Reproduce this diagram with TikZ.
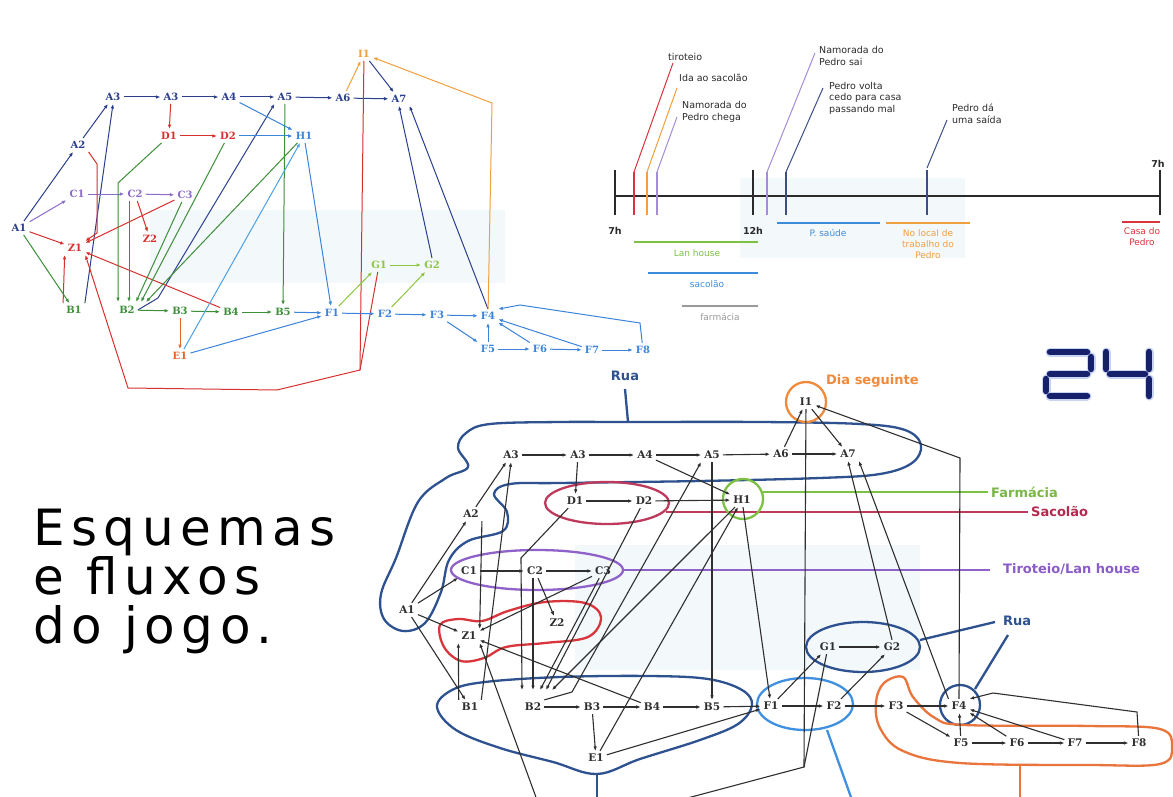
\documentclass[tikz,border=0pt]{standalone}
\usepackage{fontspec}
\usetikzlibrary{arrows.meta,calc}
\newfontfamily\nodefont{DejaVu Serif}
\newfontfamily\lbfont{DejaVu Sans}
\newfontfamily\titlefont{DejaVu Sans}[LetterSpace=13]
\definecolor{cnavy}{HTML}{2B3F8C}
\definecolor{cblue}{HTML}{3B84DA}
\definecolor{clblue}{HTML}{4EA0E4}
\definecolor{cred}{HTML}{D7312F}
\definecolor{cgreen}{HTML}{3E8E3A}
\definecolor{cpurple}{HTML}{8B6CC9}
\definecolor{corange}{HTML}{F0A040}
\definecolor{cE}{HTML}{E9632B}
\definecolor{cyg}{HTML}{8DC63F}
\definecolor{cgray}{HTML}{2F2F2F}
\definecolor{ctext}{HTML}{2A2A2A}
\definecolor{rnavy}{HTML}{2E5190}
\definecolor{rred}{HTML}{D8363C}
\definecolor{rcrimson}{HTML}{BE3A5C}
\definecolor{rgreen}{HTML}{7CC143}
\definecolor{rpurple}{HTML}{8E62C8}
\definecolor{rlblue}{HTML}{3F90E0}
\definecolor{rorange}{HTML}{E9753C}
\definecolor{rdorange}{HTML}{F08A3C}
\definecolor{lgreen}{HTML}{7AB648}
\definecolor{lcrimson}{HTML}{B5294E}
\definecolor{lpurple}{HTML}{8A5CC8}
\definecolor{tgreen}{HTML}{7CC143}
\definecolor{tblue}{HTML}{3D8CDB}
\definecolor{tgray}{HTML}{9A9A9A}
\definecolor{torange}{HTML}{F0A040}
\definecolor{tred}{HTML}{D9343C}
\definecolor{tpurple}{HTML}{A58CD8}
\definecolor{tnavy}{HTML}{3B4E86}
\definecolor{cpale}{HTML}{F3F8FB}
\definecolor{c24}{HTML}{16206B}
\definecolor{c24g}{HTML}{C9D5F0}
\begin{document}
\begin{tikzpicture}[x=1pt,y=-1pt,
  >={Latex[length=4.5pt,width=3.6pt]},
  tn/.style={font=\nodefont\bfseries\fontsize{10}{12}\selectfont, inner sep=3pt},
  bn/.style={font=\nodefont\bfseries\fontsize{10.5}{12}\selectfont, inner sep=3pt, text=cgray},
  te/.style={->, line width=1pt},
  be/.style={->, line width=1.1pt, draw=cgray},
  pl/.style={line width=1pt},
  blob/.style={line width=2.3pt},
  lab/.style={font=\lbfont\bfseries\fontsize{13}{15}\selectfont, inner sep=0pt},
  tl/.style={font=\lbfont\fontsize{9.5}{11.5}\selectfont, text=ctext, align=left, inner sep=0pt, anchor=west},
  tr/.style={font=\lbfont\fontsize{9}{11}\selectfont, align=center, inner sep=0pt},
  bar/.style={line width=2pt},
  tick/.style={line width=2pt},
  sl/.style={line width=1pt},
]
\path[use as bounding box, fill=white] (0,0) rectangle (1173,797);
\clip (0,0) rectangle (1173,797);
% faint tints
\fill[cpale] (150,210) rectangle (505,283);
\fill[cpale] (740,178) rectangle (965,258);
\fill[cpale] (575,545) rectangle (920,670);

% ================= TOP-LEFT GRAPH =================
\node[tn,text=cnavy] (tA1) at (19,228) {A1};
\node[tn,text=cnavy] (tA2) at (78,145) {A2};
\node[tn,text=cnavy] (tA3a) at (113,97) {A3};
\node[tn,text=cnavy] (tA3b) at (171,97) {A3};
\node[tn,text=cnavy] (tA4) at (229,97) {A4};
\node[tn,text=cnavy] (tA5) at (285,97) {A5};
\node[tn,text=cnavy] (tA6) at (343,98) {A6};
\node[tn,text=cnavy] (tA7) at (399,99) {A7};
\node[tn,text=corange] (tI1) at (364,54) {I1};
\node[tn,text=cred] (tD1) at (169,136) {D1};
\node[tn,text=cred] (tD2) at (228,136) {D2};
\node[tn,text=cblue] (tH1) at (304,136) {H1};
\node[tn,text=cpurple] (tC1) at (77,194) {C1};
\node[tn,text=cpurple] (tC2) at (135,194) {C2};
\node[tn,text=cpurple] (tC3) at (185,195) {C3};
\node[tn,text=cred] (tZ2) at (150,239) {Z2};
\node[tn,text=cred] (tZ1) at (75,248) {Z1};
\node[tn,text=cgreen] (tB1) at (74,310) {B1};
\node[tn,text=cgreen] (tB2) at (127,310) {B2};
\node[tn,text=cgreen] (tB3) at (180,311) {B3};
\node[tn,text=cgreen] (tB4) at (231,312) {B4};
\node[tn,text=cgreen] (tB5) at (283,312) {B5};
\node[tn,text=cE] (tE1) at (180,356) {E1};
\node[tn,text=cblue] (tF1) at (332,313) {F1};
\node[tn,text=cblue] (tF2) at (385,314) {F2};
\node[tn,text=cblue] (tF3) at (437,315) {F3};
\node[tn,text=cblue] (tF4) at (488,316) {F4};
\node[tn,text=cblue] (tF5) at (488,349) {F5};
\node[tn,text=cblue] (tF6) at (540,349) {F6};
\node[tn,text=cblue] (tF7) at (592,350) {F7};
\node[tn,text=cblue] (tF8) at (643,350) {F8};
\node[tn,text=cyg] (tG1) at (379,265) {G1};
\node[tn,text=cyg] (tG2) at (432,265) {G2};

% navy
\draw[te,cnavy] (tA1) -- (tA2);
\draw[te,cnavy] (tA2) -- (tA3a);
\draw[te,cnavy] (tA3a) -- (tA3b);
\draw[te,cnavy] (tA3b) -- (tA4);
\draw[te,cnavy] (tA4) -- (tA5);
\draw[te,cnavy] (tA5) -- (tA6);
\draw[te,cnavy] (tA6) -- (tA7);
\draw[te,cnavy] (tB1.north east) -- (tA3a.south);
\draw[te,cnavy] (tB2.east) -- (158,298) -- (tA5.south west);
\draw[te,cnavy] (tI1) -- (tA7);
\draw[te,cnavy] (tG2.north) -- (tA7.south);
\draw[te,cnavy] (tF4.north) -- (tA7.south east);
% purple
\draw[te,cpurple] (tA1) -- (tC1);
\draw[te,cpurple] (tC1) -- (tC2);
\draw[te,cpurple] (tC2) -- (tC3);
% red
\draw[te,cred] (tA3b) -- (tD1);
\draw[te,cred] (tD1) -- (tD2);
\draw[te,cred] (tA1) -- (tZ1);
\draw[te,cred] (tC3) -- (tZ1);
\draw[te,cred] (tC2) -- (tZ2);
\draw[te,cred] (tB1.north west) -- (tZ1.south west);
\draw[te,cred] (tB4) -- (tZ1);
\draw[te,cred] (tA2.south east) -- (97,164) -- (97,233) -- (tZ1.north east);
\coordinate (tR1) at (360,370);
\draw[pl,cred] (tI1) -- (tR1);
\draw[te,cred] (tG1) -- (tR1) -- (277,390) -- (128,388) -- (tZ1.south east);
% green
\draw[te,cgreen] (tA1) -- (tB1);
\coordinate (tb2a) at (118,302);
\coordinate (tb2b) at (129,302);
\coordinate (tb2c) at (136,302);
\coordinate (tb2d) at (141,302);
\coordinate (tb2e) at (146,302);
\draw[te,cgreen] (tD1) -- (118,183) -- (tb2a);
\draw[te,cgreen] (tC2.south -| tb2b) -- (tb2b);
\draw[te,cgreen] (tC3) -- (tb2c);
\draw[te,cgreen] (tD2) -- (tb2d);
\draw[te,cgreen] (tH1) -- (tb2e);
\draw[te,cgreen] (tA5) -- (tB5);
\draw[te,cgreen] (tB2) -- (tB3);
\draw[te,cgreen] (tB3) -- (tB4);
\draw[te,cgreen] (tB4) -- (tB5);
\draw[te,cE] (tB3) -- (tE1);
% blue
\draw[te,cblue] (tA4) -- (tH1);
\draw[te,cblue] (tD2) -- (tH1);
\draw[te,cblue] (tH1) -- (tF1);
\draw[te,cblue] (tB5) -- (tF1);
\draw[te,cblue] (tE1) -- (tF1);
\draw[te,clblue] (tE1) -- (tH1);
\draw[te,cblue] (tF1) -- (tF2);
\draw[te,cblue] (tF2) -- (tF3);
\draw[te,cblue] (tF3) -- (tF4);
\draw[te,cblue] (tF3) -- (tF5);
\draw[te,cblue] (tF5) -- (tF4);
\draw[te,cblue] (tF5) -- (tF6);
\draw[te,cblue] (tF6) -- (tF7);
\draw[te,cblue] (tF7) -- (tF8);
\draw[te,cblue] (tF6) -- (tF4);
\draw[te,cblue] (tF7) -- (tF4);
\draw[te,cblue] (tF8) -- (640,323) -- (520,305) -- (tF4.north east);
% yellow-green
\draw[te,cyg] (tF1) -- (tG1);
\draw[te,cyg] (tF2) -- (tG2);
\draw[te,cyg] (tG1) -- (tG2);
% orange
\draw[te,corange] (tA6) -- (tI1);
\draw[te,corange] (tF4) -- (492,103) -- (tI1);

% ================= TIMELINE =================
\draw[tick,ctext] (615,196) -- (1160,196);
\draw[tick,ctext] (615,170) -- (615,215);
\draw[tick,ctext] (753,170) -- (753,215);
\draw[tick,ctext] (1160,170) -- (1160,215);
\draw[tick,tred] (634,172) -- (634,215);
\draw[tick,torange] (647,172) -- (647,215);
\draw[tick,tpurple] (657,172) -- (657,215);
\draw[tick,tpurple] (767,172) -- (767,215);
\draw[tick,tnavy] (786,172) -- (786,215);
\draw[tick,tnavy] (927,170) -- (927,215);
\draw[sl,tred] (634,172) -- (673,63);
\draw[sl,torange] (647,172) -- (677,88);
\draw[sl,tpurple] (657,172) -- (677,117);
\draw[sl,tpurple] (767,172) -- (815,53);
\draw[sl,tnavy] (786,172) -- (823,88);
\draw[sl,tnavy] (927,168) -- (947,120);
\node[tl] (L1) at (668,57) {tiroteio};
\node[tl] (L2) at (679,78) {Ida ao sacolão};
\node[tl] (L3) at (682,112) {Namorada do\\Pedro chega};
\node[tl] (L4) at (819,56) {Namorada do\\Pedro sai};
\node[tl] (L5) at (829,98) {Pedro volta\\cedo para casa\\passando mal};
\node[tl] (L6) at (952,114) {Pedro dá\\uma saída};
\node[tr,font=\lbfont\bfseries\fontsize{9.5}{11}\selectfont,text=ctext] (h7a) at (615,231) {7h};
\node[tr,font=\lbfont\bfseries\fontsize{9.5}{11}\selectfont,text=ctext] (h12) at (753,231) {12h};
\node[tr,font=\lbfont\bfseries\fontsize{9.5}{11}\selectfont,text=ctext] (h7b) at (1158,164) {7h};
\draw[bar,tgreen] (634,242) -- (758,242);
\draw[bar,tblue] (648,273) -- (758,273);
\draw[bar,tgray] (682,306) -- (758,306);
\draw[bar,tblue] (777,223) -- (880,223);
\draw[bar,torange] (886,223) -- (970,223);
\draw[bar,tred] (1122,222) -- (1160,222);
\node[tr,text=tgreen] (r1) at (697,253) {Lan house};
\node[tr,text=tblue] (r2) at (707,284) {sacolão};
\node[tr,text=tgray] (r3) at (720,317) {farmácia};
\node[tr,text=tblue] (r4) at (828,233) {P. saúde};
\node[tr,text=torange] (r5) at (928,244) {No local de\\trabalho do\\Pedro};
\node[tr,text=tred] (r6) at (1142,237) {Casa do\\Pedro};

% ================= 24 =================
\begin{scope}[line cap=round]
\foreach \w/\c in {9/c24g, 6.5/c24}{
  \draw[line width=\w pt, \c] (1050,352) -- (1087,352);
  \draw[line width=\w pt, \c] (1091,357) -- (1091,369);
  \draw[line width=\w pt, \c] (1050,374) -- (1087,374);
  \draw[line width=\w pt, \c] (1046,379) -- (1046,391);
  \draw[line width=\w pt, \c] (1050,396) -- (1087,396);
  \draw[line width=\w pt, \c] (1106,352) -- (1106,369);
  \draw[line width=\w pt, \c] (1110,374) -- (1145,374);
  \draw[line width=\w pt, \c] (1149,352) -- (1149,369);
  \draw[line width=\w pt, \c] (1149,379) -- (1149,396);
}
\end{scope}

% ================= TITLE =================
\node[anchor=base west, font=\titlefont\fontsize{50}{52}\selectfont, inner sep=0pt] (T1) at (33,545) {Esquemas};
\node[anchor=base west, font=\titlefont\fontsize{50}{52}\selectfont, inner sep=0pt] (T2) at (33,594) {e fluxos};
\node[anchor=base west, font=\titlefont\fontsize{50}{52}\selectfont, inner sep=0pt] (T3) at (33,643) {do jogo.};

% ================= BOTTOM GRAPH: regions =================
\draw[blob,rnavy] plot[smooth cycle, tension=0.6] coordinates {(628,422) (760,422) (860,424) (905,430) (921,445) (912,463) (880,474) (820,478) (700,481) (560,483) (510,484) (494,494) (507,512) (503,531) (468,541) (449,560) (441,592) (425,623) (403,631) (384,619) (381,594) (396,558) (418,502) (446,478) (468,467) (458,448) (466,433) (490,424) (560,422)};
\node[lab,text=rnavy] (rua1) at (625,376) {Rua};
\draw[blob,rnavy] (rua1.south |- 0,389) -- (628,422);

\draw[blob,rcrimson] (607,503) ellipse [x radius=62, y radius=21];
\draw[blob,rcrimson] (666,512) -- (1028,512);
\node[lab,text=lcrimson,anchor=west] (sac) at (1031,512) {Sacolão};

\draw[blob,rgreen] (743,499) circle [radius=20];
\draw[blob,rgreen] (763,492) -- (988,492);
\node[lab,text=lgreen,anchor=west] (far) at (991,492) {Farmácia};

\draw[blob,rpurple] (537,570) ellipse [x radius=86, y radius=20];
\draw[blob,rpurple] (623,570) -- (990,570);
\node[lab,text=lpurple,anchor=west] (tir) at (1003,569) {Tiroteio/Lan house};

\draw[blob,rred] plot[smooth cycle, tension=0.6] coordinates {(440,625) (458,619) (482,621) (508,611) (545,602) (585,603) (601,617) (588,637) (545,643) (506,647) (484,658) (461,661) (444,647)};

\draw[blob,rnavy] plot[smooth cycle, tension=0.6] coordinates {(437,707) (452,690) (485,682) (560,677) (650,676) (708,679) (742,690) (752,705) (738,724) (700,740) (640,759) (597,774) (553,762) (500,748) (456,730)};
\draw[blob,rnavy] (597,773) -- (597,800);

\draw[blob,rlblue] (805,704) ellipse [x radius=48, y radius=26];
\draw[blob,rlblue] (827,730) -- (852,800);

\draw[blob,rnavy] (863,647) ellipse [x radius=57, y radius=25];
\node[lab,text=rnavy,anchor=west] (rua2) at (1003,621) {Rua};
\draw[blob,rnavy] (920,640) -- (995,622);
\draw[blob,rnavy] (960,705) circle [radius=20];
\draw[blob,rnavy] (1008,635) -- (975,689);

\draw[blob,rorange] plot[smooth cycle, tension=0.6] coordinates {(903,677) (913,697) (935,718) (965,725) (1090,726) (1160,729) (1172,747) (1160,764) (1090,765) (960,763) (903,751) (880,728) (876,702) (884,683)};
\draw[blob,rorange] (1020,765) -- (1020,800);

\draw[blob,rdorange] (806,402) circle [radius=20];
\node[lab,text=rdorange,anchor=west] (dia) at (826,381) {Dia seguinte};

% ================= BOTTOM GRAPH: nodes =================
\node[bn] (bA1) at (407,610) {A1};
\node[bn] (bA2) at (471,514) {A2};
\node[bn] (bA3a) at (511,455) {A3};
\node[bn] (bA3b) at (578,455) {A3};
\node[bn] (bA4) at (645,455) {A4};
\node[bn] (bA5) at (712,455) {A5};
\node[bn] (bA6) at (781,454) {A6};
\node[bn] (bA7) at (848,454) {A7};
\node[bn] (bI1) at (806,402) {I1};
\node[bn] (bD1) at (575,501) {D1};
\node[bn] (bD2) at (644,501) {D2};
\node[bn] (bH1) at (742,500) {H1};
\node[bn] (bC1) at (469,571) {C1};
\node[bn] (bC2) at (535,571) {C2};
\node[bn] (bC3) at (603,571) {C3};
\node[bn] (bZ1) at (469,636) {Z1};
\node[bn] (bZ2) at (557,623) {Z2};
\node[bn] (bB1) at (470,707) {B1};
\node[bn] (bB2) at (533,707) {B2};
\node[bn] (bB3) at (592,707) {B3};
\node[bn] (bB4) at (652,707) {B4};
\node[bn] (bB5) at (712,707) {B5};
\node[bn] (bE1) at (596,758) {E1};
\node[bn] (bF1) at (771,706) {F1};
\node[bn] (bF2) at (834,706) {F2};
\node[bn] (bF3) at (896,706) {F3};
\node[bn] (bF4) at (959,706) {F4};
\node[bn] (bF5) at (961,743) {F5};
\node[bn] (bF6) at (1017,743) {F6};
\node[bn] (bF7) at (1075,743) {F7};
\node[bn] (bF8) at (1139,743) {F8};
\node[bn] (bG1) at (828,647) {G1};
\node[bn] (bG2) at (892,647) {G2};

% ================= BOTTOM GRAPH: edges =================
\draw[be] (bA1) -- (bA2);
\draw[be] (bA2) -- (bA3a);
\draw[be] (bA3a) -- (bA3b);
\draw[be] (bA3b) -- (bA4);
\draw[be] (bA4) -- (bA5);
\draw[be] (bA5) -- (bA6);
\draw[be] (bA6) -- (bA7);
\draw[be] (bA1) -- (bC1);
\draw[be] (bC1) -- (bC2);
\draw[be] (bC2) -- (bC3);
\draw[be] (bA3b) -- (bD1);
\draw[be] (bD1) -- (bD2);
\draw[be] (bD2) -- (bH1);
\draw[be] (bA4) -- (bH1);
\draw[be] (bB1.north east) -- (bA3a.south);
\draw[be] (bA2.south east) -- (bZ1.north east);
\draw[be] (bA1) -- (bZ1);
\draw[be] (bC3) -- (bZ1);
\draw[be] (bC2) -- (bZ2);
\draw[be] (bB1.north west) -- (bZ1.south west);
\draw[be] (bB4) -- (bZ1);
\coordinate (bzo) at (537,800);
\draw[be] (bzo) -- (bZ1.south east);
\coordinate (bjn) at (804,767);
\coordinate (bio) at (680,800);
\draw[pl,cgray,line width=1.1pt] (bI1) -- (bjn) -- (bio);
\draw[pl,cgray,line width=1.1pt] (bG1) -- (bjn);
\draw[be] (bA1) -- (bB1);
\coordinate (bb2a) at (522,690);
\coordinate (bb2b) at (533,690);
\coordinate (bb2c) at (540,690);
\coordinate (bb2d) at (546,690);
\coordinate (bb2e) at (552,690);
\draw[be] (bD1) -- (521,558) -- (bb2a);
\draw[be] (bC2.south -| bb2b) -- (bb2b);
\draw[be] (bC3) -- (bb2c);
\draw[be] (bD2) -- (bb2d);
\draw[be] (bH1) -- (bb2e);
\draw[be] (bB2.north east) -- (572,692) -- (bA5.south west);
\draw[be] (bA5) -- (bB5);
\draw[be] (bB2) -- (bB3);
\draw[be] (bB3) -- (bB4);
\draw[be] (bB4) -- (bB5);
\draw[be] (bB3) -- (bE1);
\draw[be] (bE1) -- (bF1);
\draw[be] (bE1) -- (bH1);
\draw[be] (bH1) -- (bF1);
\draw[be] (bB5) -- (bF1);
\draw[be] (bF1) -- (bF2);
\draw[be] (bF2) -- (bF3);
\draw[be] (bF3) -- (bF4);
\draw[be] (bF3) -- (bF5);
\draw[be] (bF5) -- (bF4);
\draw[be] (bF5) -- (bF6);
\draw[be] (bF6) -- (bF7);
\draw[be] (bF7) -- (bF8);
\draw[be] (bF6) -- (bF4);
\draw[be] (bF7) -- (bF4);
\draw[be] (bF8) -- (1137,712) -- (993,693) -- (bF4.north east);
\draw[be] (bF1) -- (bG1);
\draw[be] (bF2) -- (bG2);
\draw[be] (bG1) -- (bG2);
\draw[be] (bG2.north) -- (bA7.south);
\draw[be] (bF4.north west) -- (bA7.south east);
\draw[be] (bF4.north) -- (960,458) -- (bI1);
\draw[be] (bA6) -- (bI1);
\draw[be] (bI1) -- (bA7);
\end{tikzpicture}
\end{document}
